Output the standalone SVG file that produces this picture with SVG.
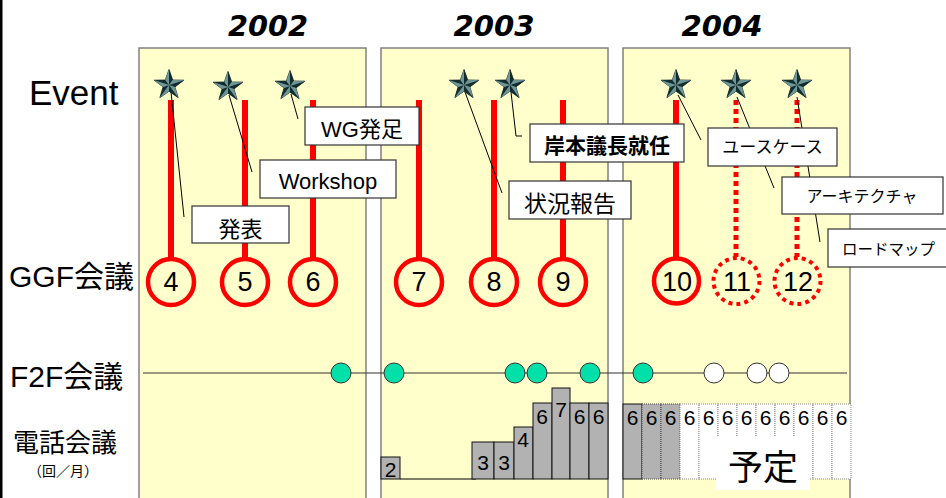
<svg xmlns="http://www.w3.org/2000/svg" width="946" height="498" viewBox="0 0 946 498">
<defs>
<style>
.f{font-family:"Liberation Sans","Noto Sans CJK JP",sans-serif;fill:#000}
.yr{font-family:"DejaVu Sans","Liberation Sans",sans-serif;font-weight:bold;font-style:italic;font-size:29px;text-anchor:middle}
.panel{fill:#FFFFCC;stroke:#808080;stroke-width:1.5}
.red{stroke:#FF0000;stroke-width:6;fill:none}
.reddot{stroke:#FF0000;stroke-width:5;stroke-dasharray:5 4;fill:none}
.ring{fill:none;stroke:#FF0000;stroke-width:4.5}
.ringdot{fill:none;stroke:#FF0000;stroke-width:4;stroke-dasharray:4 4}
.num{font-size:27px;text-anchor:middle}
.lead{stroke:#000;stroke-width:1;fill:none}
.box{fill:#fff;stroke:#333;stroke-width:1.2}
.g{fill:#00E0A8;stroke:#333;stroke-width:1}
.w{fill:#fff;stroke:#333;stroke-width:1}
.bar{fill:#B2B2B2;stroke:#111;stroke-width:1}
.bard{fill:#B2B2B2;stroke:#444;stroke-width:1;stroke-dasharray:1 1}
.barw{fill:#fff;stroke:#888;stroke-width:1;stroke-dasharray:1 1}
.bn{font-size:21px;text-anchor:middle}
</style>
<g id="star">
<path d="M0,-15.5 L3.7,-5 L14.8,-4.8 L5.9,1.9 L9.1,12.6 L0,6.2 L-9.1,12.6 L-5.9,1.9 L-14.8,-4.8 L-3.7,-5 Z" fill="#3A6464" stroke="#142828" stroke-width="0.8"/>
<path d="M0,0 L0,-15.5 L3.7,-5 Z M0,0 L14.8,-4.8 L5.9,1.9 Z M0,0 L9.1,12.6 L0,6.2 Z M0,0 L-9.1,12.6 L-5.9,1.9 Z M0,0 L-14.8,-4.8 L-3.7,-5 Z" fill="#142C2C"/>
<path d="M0,0 L-3.7,-5 L0,-15.5 Z M0,0 L3.7,-5 L14.8,-4.8 Z M0,0 L5.9,1.9 L9.1,12.6 Z M0,0 L0,6.2 L-9.1,12.6 Z M0,0 L-5.9,1.9 L-14.8,-4.8 Z" fill="#6F9696"/>
</g>
</defs>
<rect x="0" y="0" width="946" height="498" fill="#fff"/>
<rect x="0" y="0" width="2.5" height="498" fill="#000"/>

<g id="panels">
<rect class="panel" x="139" y="48" width="227" height="460"/>
<rect class="panel" x="381" y="48" width="227" height="460"/>
<rect class="panel" x="623" y="48" width="227" height="460"/>
</g>

<g id="years">
<text class="yr" x="268" y="36" textLength="80" lengthAdjust="spacingAndGlyphs">2002</text>
<text class="yr" x="494" y="36" textLength="81" lengthAdjust="spacingAndGlyphs">2003</text>
<text class="yr" x="722" y="36" textLength="81" lengthAdjust="spacingAndGlyphs">2004</text>
</g>

<g id="row-labels">
<text class="f" x="29" y="105" font-size="35">Event</text>
<text class="f" x="9" y="287" font-size="30">GGF会議</text>
<text class="f" x="10" y="387" font-size="30">F2F会議</text>
<text class="f" x="13" y="452" font-size="26">電話会議</text>
<text class="f" x="28" y="476" font-size="14">（回／月）</text>
</g>

<g id="connectors">
<line class="red" x1="171" y1="100" x2="171" y2="258"/>
<line class="red" x1="245" y1="100" x2="245" y2="258"/>
<line class="red" x1="313" y1="100" x2="313" y2="258"/>
<line class="red" x1="419" y1="100" x2="419" y2="258"/>
<line class="red" x1="494" y1="100" x2="494" y2="258"/>
<line class="red" x1="563" y1="100" x2="563" y2="258"/>
<line class="red" x1="676" y1="100" x2="676" y2="257"/>
<line class="reddot" x1="736" y1="100" x2="736" y2="257"/>
<line class="reddot" x1="797" y1="100" x2="797" y2="257"/>
<line class="lead" x1="171" y1="92" x2="184" y2="217"/>
<line class="lead" x1="229" y1="95" x2="252" y2="172"/>
<line class="lead" x1="291" y1="94" x2="298" y2="119"/>
<line class="lead" x1="465" y1="92" x2="502" y2="193"/>
<polyline class="lead" points="511,92 516,136 522,136"/>
<line class="lead" x1="678" y1="95" x2="701" y2="140"/>
<line class="lead" x1="737" y1="97" x2="774" y2="188"/>
<line class="lead" x1="797" y1="97" x2="820" y2="242"/>
<line x1="143" y1="373" x2="847" y2="373" stroke="#333" stroke-width="1"/>
<line x1="400" y1="479" x2="476" y2="479" stroke="#000" stroke-width="1.2"/>
</g>

<g id="stars">
<use href="#star" x="169" y="85"/>
<use href="#star" x="228" y="87"/>
<use href="#star" x="290" y="86"/>
<use href="#star" x="464" y="85"/>
<use href="#star" x="510" y="85"/>
<use href="#star" x="676" y="85"/>
<use href="#star" x="736" y="85"/>
<use href="#star" x="797" y="85"/>
</g>

<g id="ev-wg"><rect class="box" x="305" y="107" width="114" height="38"/><text class="f" x="362" y="137" font-size="22" text-anchor="middle">WG発足</text></g>
<g id="ev-workshop"><rect class="box" x="260" y="160" width="136" height="38"/><text class="f" x="328" y="189" font-size="22" text-anchor="middle">Workshop</text></g>
<g id="ev-happyo"><rect class="box" x="192" y="206" width="97" height="37"/><text class="f" x="240.5" y="237" font-size="22" text-anchor="middle">発表</text></g>
<g id="ev-kishimoto"><rect class="box" x="530" y="124" width="154" height="38"/><text class="f" x="607" y="153" font-size="21" font-weight="bold" text-anchor="middle">岸本議長就任</text></g>
<g id="ev-jokyo"><rect class="box" x="509" y="181" width="122" height="38"/><text class="f" x="570" y="212" font-size="23" text-anchor="middle">状況報告</text></g>
<g id="ev-usecase"><rect class="box" x="708" y="128" width="129" height="38"/><text class="f" x="772.5" y="153" font-size="17" text-anchor="middle">ユースケース</text></g>
<g id="ev-arch"><rect class="box" x="782" y="177" width="161" height="37"/><text class="f" x="862" y="202" font-size="16" text-anchor="middle">アーキテクチャ</text></g>
<g id="ev-roadmap"><rect class="box" x="828" y="229" width="125" height="38"/><text class="f" x="842" y="255" font-size="15.5">ロードマップ</text></g>

<g id="ggf4"><circle class="ring" cx="171" cy="282" r="23"/><text class="f num" x="171" y="291">4</text></g>
<g id="ggf5"><circle class="ring" cx="245" cy="282" r="23"/><text class="f num" x="245" y="291">5</text></g>
<g id="ggf6"><circle class="ring" cx="313" cy="282" r="23"/><text class="f num" x="313" y="291">6</text></g>
<g id="ggf7"><circle class="ring" cx="419" cy="282" r="23"/><text class="f num" x="419" y="291">7</text></g>
<g id="ggf8"><circle class="ring" cx="494" cy="282" r="23"/><text class="f num" x="494" y="291">8</text></g>
<g id="ggf9"><circle class="ring" cx="563" cy="282" r="23"/><text class="f num" x="563" y="291">9</text></g>
<g id="ggf10"><circle class="ring" cx="676.5" cy="281" r="22.5" stroke-width="6.5"/><text class="f num" x="677" y="291" font-size="29">10</text></g>
<g id="ggf11"><circle class="ringdot" cx="736.5" cy="281" r="23"/><text class="f num" x="737" y="291" font-size="29">11</text></g>
<g id="ggf12"><circle class="ringdot" cx="797.5" cy="281" r="23"/><text class="f num" x="798" y="291" font-size="29">12</text></g>

<g id="f2f">
<circle class="g" cx="341" cy="373" r="10"/>
<circle class="g" cx="394" cy="373" r="10"/>
<circle class="g" cx="515" cy="373" r="10"/>
<circle class="g" cx="537" cy="373" r="10"/>
<circle class="g" cx="590" cy="373" r="10"/>
<circle class="g" cx="643" cy="373" r="10"/>
<circle class="w" cx="714" cy="373" r="10"/>
<circle class="w" cx="757" cy="373" r="10"/>
<circle class="w" cx="779" cy="373" r="10"/>
</g>

<g id="tel-2003">
<rect class="bar" x="381" y="457" width="19" height="22"/><text class="f bn" x="390.5" y="477">2</text>
<rect class="bar" x="472" y="442" width="22" height="37"/><text class="f bn" x="483" y="470">3</text>
<rect class="bar" x="494" y="442" width="20" height="37"/><text class="f bn" x="504" y="470">3</text>
<rect class="bar" x="514" y="427" width="19" height="52"/><text class="f bn" x="523" y="447">4</text>
<rect class="bar" x="533" y="403" width="19" height="76"/><text class="f bn" x="542" y="424">6</text>
<rect class="bar" x="552" y="388" width="18" height="91"/><text class="f bn" x="561" y="417">7</text>
<rect class="bar" x="570" y="403" width="19" height="76"/><text class="f bn" x="579.5" y="424">6</text>
<rect class="bar" x="589" y="403" width="19" height="76"/><text class="f bn" x="598.5" y="424">6</text>
</g>

<g id="tel-2004">
<rect class="bar" x="623" y="404" width="19" height="75"/>
<rect class="bard" x="642" y="404" width="19" height="75"/>
<rect class="bard" x="661" y="404" width="19" height="75"/>
<rect class="barw" x="680" y="404" width="19" height="75"/>
<rect class="barw" x="699" y="404" width="19" height="75"/>
<rect class="barw" x="718" y="404" width="19" height="75"/>
<rect class="barw" x="737" y="404" width="19" height="75"/>
<rect class="barw" x="756" y="404" width="19" height="75"/>
<rect class="barw" x="775" y="404" width="19" height="75"/>
<rect class="barw" x="794" y="404" width="19" height="75"/>
<rect class="barw" x="813" y="404" width="19" height="75"/>
<rect class="barw" x="832" y="404" width="19" height="75"/>
<text class="f bn" x="632.5" y="425">6</text>
<text class="f bn" x="651.5" y="425">6</text>
<text class="f bn" x="670.5" y="425">6</text>
<text class="f bn" x="689.5" y="425">6</text>
<text class="f bn" x="708.5" y="425">6</text>
<text class="f bn" x="727.5" y="425">6</text>
<text class="f bn" x="746.5" y="425">6</text>
<text class="f bn" x="765.5" y="425">6</text>
<text class="f bn" x="784.5" y="425">6</text>
<text class="f bn" x="803.5" y="425">6</text>
<text class="f bn" x="822.5" y="425">6</text>
<text class="f bn" x="841.5" y="425">6</text>
</g>

<g id="yotei"><rect x="716" y="437" width="94" height="53" fill="#fff"/><text class="f" x="763" y="480" font-size="35" text-anchor="middle">予定</text></g>
</svg>
